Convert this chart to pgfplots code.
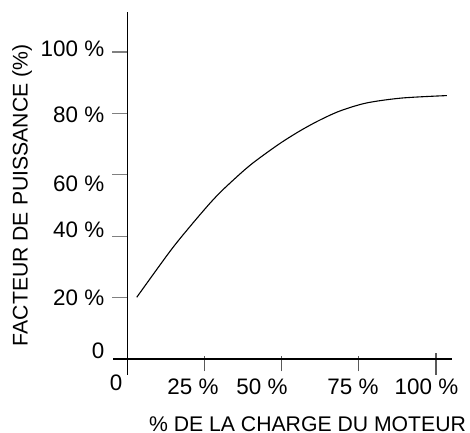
\documentclass[border=0pt]{standalone}
\usepackage{fontspec}
\setmainfont{Liberation Sans}
\usepackage{pgfplots}
\pgfplotsset{compat=1.18}
\tikzset{
  ylabnode/.style={anchor=base east, inner sep=0pt, font=\fontsize{11.2}{13}\selectfont},
  xlabnode/.style={anchor=base, inner sep=0pt, font=\fontsize{11.2}{13}\selectfont},
}
\begin{document}
\begin{tikzpicture}
\begin{axis}[
  scale only axis,
  width=169.5pt, height=181.4pt,
  xmin=-4.7, xmax=105.2,
  ymin=-5.2, ymax=113,
  axis lines=middle,
  axis line style={-, black, line width=0.55pt},
  xtick={25,50,75,100}, ytick={20,40,60,80,100},
  xticklabels={}, yticklabels={},
  major tick length=7.5pt,
  xtick align=center,
  ytick align=outside,
  x tick style={gray!70!black, line width=0.55pt, shorten <=-1.75pt, shorten >=-1.75pt, yshift=-2.5pt},
  y tick style={gray, line width=0.55pt},
  clip=false,
]
\addplot[black, line width=0.55pt, smooth, tension=0.5] coordinates {
 (3.0,20.1) (13.8,35.1) (20.3,43.2) (26.7,50.7) (31.0,55.2) (37.5,61.2)
 (41.9,64.8) (49.4,70.2) (55.9,74.3) (62.1,77.7) (68.9,80.8) (77.5,83.4)
 (88.9,85.0) (103.5,85.8)
};
\path (axis cs:-41.33,-24.10) rectangle (axis cs:111.02,116.94);
\node[ylabnode] at (axis cs:-7.4,98.4) {100 \%};
\node[ylabnode] at (axis cs:-7.4,76.9) {80 \%};
\node[ylabnode] at (axis cs:-7.4,54.6) {60 \%};
\node[ylabnode] at (axis cs:-7.4,39.5) {40 \%};
\node[ylabnode] at (axis cs:-7.4,17.3) {20 \%};
\node[ylabnode] at (axis cs:-7.4,0.23) {0};
\node[xlabnode] at (axis cs:-3.73,-10.42) {0};
\node[xlabnode] at (axis cs:21.23,-11.73) {25 \%};
\node[xlabnode] at (axis cs:43.6,-11.73) {50 \%};
\node[xlabnode] at (axis cs:73.1,-11.73) {75 \%};
\node[xlabnode] at (axis cs:96.9,-11.73) {100 \%};
\node[anchor=base, inner sep=0pt, font=\fontsize{10.6}{12}\selectfont] at (axis cs:58.35,-23.6) {\% DE LA CHARGE DU MOTEUR};
\node[anchor=base, rotate=90, inner sep=0pt, font=\fontsize{10.6}{12}\selectfont] at (axis cs:-32.4,53.3) {FACTEUR DE PUISSANCE (\%)};
\end{axis}
\end{tikzpicture}
\end{document}
